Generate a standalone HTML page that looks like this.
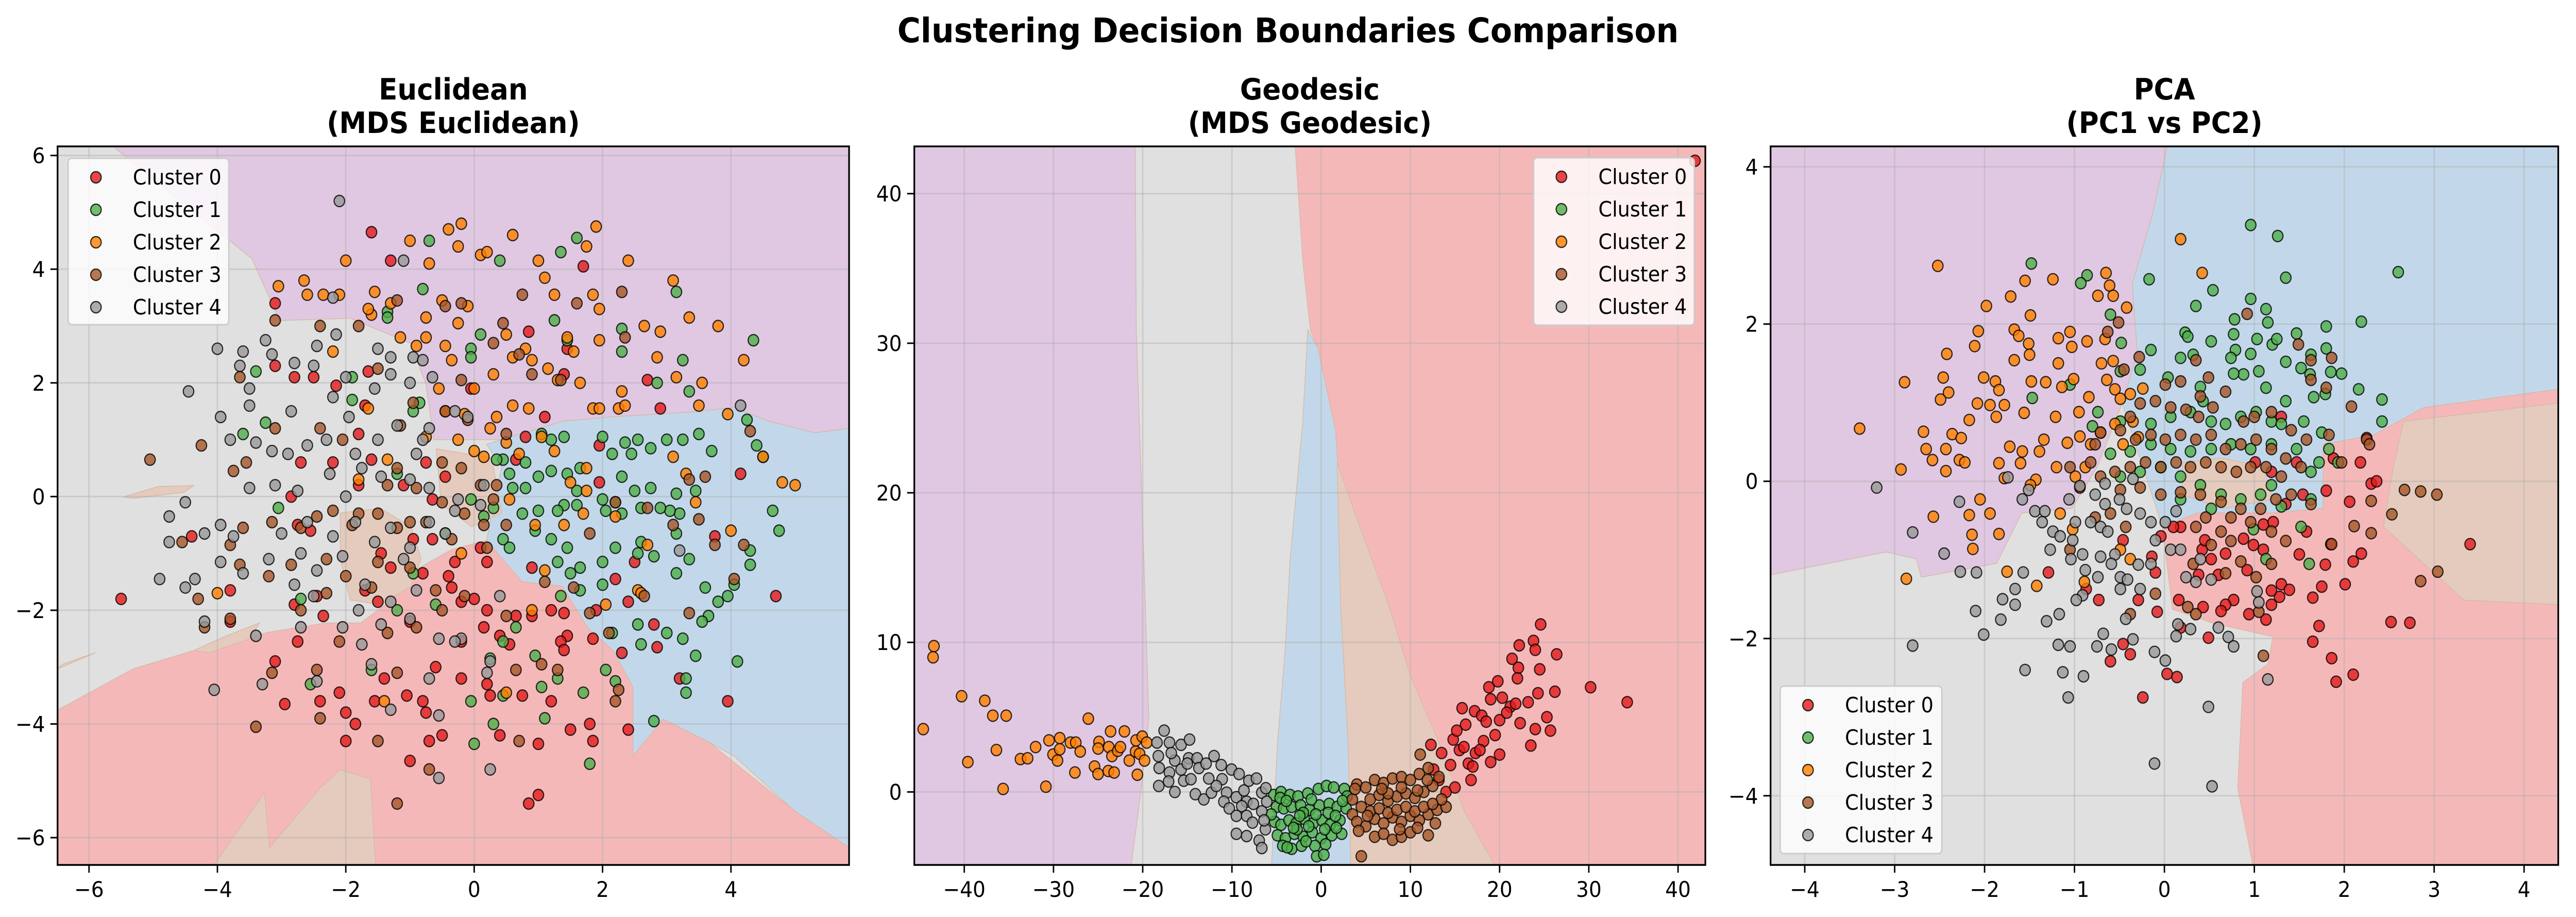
<!DOCTYPE html>
<html><head><meta charset="utf-8">
<style>
html,body{margin:0;padding:0;background:#fff;width:100%;height:100%;overflow:hidden;}
svg{display:block;position:fixed;left:0;top:0;width:100vw;height:100vh;}
text{font-family:"DejaVu Sans","Liberation Sans",sans-serif;}
</style></head>
<body>
<svg id="fig" xmlns="http://www.w3.org/2000/svg" viewBox="0 0 5370 1779" preserveAspectRatio="none">
<rect width="5370" height="1779" fill="#fff"/>
<text x="2685" y="82" font-size="66" font-weight="bold" text-anchor="middle">Clustering Decision Boundaries Comparison</text>
</svg>
<script>
// ---------- data ----------
const clusterNames = ["Cluster 0","Cluster 1","Cluster 2","Cluster 3","Cluster 4"];
const clusterColors = ["#e41a1c","#4daf4a","#ff7f00","#a65628","#999999"];
const regionColors = {purple:"#e0c8e2",gray:"#e0e0e0",blue:"#c2d8ea",pink:"#f5b8b9",tan:"#e5cbbd"};
const p1Ticks = {x:[-6,-4,-2,0,2,4], y:[-6,-4,-2,0,2,4,6]};
const p2Ticks = {x:[-40,-30,-20,-10,0,10,20,30,40], y:[0,10,20,30,40]};
const p3Ticks = {x:[-4,-3,-2,-1,0,1,2,3,4], y:[-4,-2,0,2,4]};

// Panel 1: Euclidean
const p1c0 = [[-1.6,4.65],[-1.3,4.15],[-3.1,3.4],[-3.1,2.3],[-2.8,2.1],[-2.5,2.1],[-2.15,1.95],[-1.65,2.2],[-1.7,1.6],[-1.8,1.1],[-2.2,0.6],[-2.7,0.6],[-2.85,0],[-2.75,-0.5],[-2.55,-0.6],[-4.4,-0.7],[-5.5,-1.8],[-3.8,-1.65],[-3.8,-2.2],[-3.1,-2.9],[-2.95,-3.65],[-2.45,-1.75],[-2.8,-1.9],[-2.35,-2.1],[-2.75,-2.55],[-2.1,-3.45],[-2.4,-3.6],[-2.0,-3.8],[-1.85,-4.0],[-2.0,-4.3],[-1.55,-3.6],[-1.4,-3.2],[-1.05,-3.5],[-0.8,-3.6],[-0.75,-3.8],[-0.5,-4.2],[-0.7,-4.3],[-1.0,-4.65],[-0.6,-3.0],[-0.2,-3.2],[0.2,-3.3],[0.25,-3.5],[0.4,-4.2],[1.0,-4.35],[1.0,-5.25],[0.85,-5.4],[1.2,-3.6],[0.75,-3.5],[1.5,-4.1],[1.8,-4.0],[1.85,-4.3],[2.4,-4.1],[2.85,-2.65],[2.8,-2.25],[2.4,-1.85],[2.2,-1.45],[2.5,-1.15],[2.9,1.55],[2.7,2.05],[3.75,-0.7],[4.15,0.4],[4.7,-1.75],[3.95,-3.6],[3.2,-3.2],[1.95,0.25],[1.95,0.9],[1.7,4.05],[1.45,2.6],[1.4,2.15],[0.85,2.9],[1.1,1.4],[0.65,0.65],[0.8,1.05],[-0.05,1.9],[0.9,-1.25],[0.2,-1.15],[-0.2,-1.85],[-0.2,-2.55],[0,-1.8],[0.15,-2.3],[0.4,-2.45],[1.4,-2.05],[1.45,-2.45],[1.35,-2.55],[1.4,-2.7],[1.85,-2.5],[2.3,-2.75],[-0.65,-0.75],[-0.95,-0.75],[-0.65,-0.05],[-0.45,0.35],[-0.75,0.6],[-1.1,0.2],[-1.6,0.65],[-1.8,0.2],[-1.7,-1.65],[-1.5,-1.85],[-1.3,-1.25],[-1.45,-1.0],[-0.8,-1.35],[-0.3,-1.15],[-0.4,-1.4],[0.2,-2.0],[0.65,-2.1],[0.9,-2.1],[1.2,-2.0],[1.9,-2.0],[-0.35,-1.6],[-1.0,-2.2],[0.55,-2.6],[0.1,-0.9]];
const p1c1 = [[-0.7,4.5],[0.4,4.15],[1.35,4.3],[1.6,4.55],[3.15,3.6],[4.35,2.75],[3.25,2.4],[2.85,2.0],[3.35,1.85],[4.25,1.35],[4.4,0.9],[4.5,0.7],[4.65,-0.25],[4.75,-0.6],[4.3,-0.95],[4.3,-1.2],[4.05,-1.55],[3.95,-1.75],[3.8,-1.85],[3.65,-2.1],[3.55,-2.2],[3.45,-2.8],[4.1,-2.9],[3.3,-3.2],[3.3,-3.45],[2.8,-3.95],[1.8,-4.7],[0,-4.35],[0.3,-4.0],[-0.05,-3.6],[0.45,-3.5],[1.05,-3.35],[1.7,-3.45],[2.2,-3.25],[1.3,-3.2],[2.05,-3.05],[0.95,-2.8],[0.65,-2.3],[2.15,-2.4],[2.55,-2.25],[3.0,-2.4],[3.25,-2.5],[3.15,-1.35],[2.8,-1.05],[2.55,-1.0],[3.35,-1.1],[3.15,-0.65],[2.6,-0.8],[2.2,-0.9],[2.0,-1.15],[1.65,-1.25],[1.5,-1.35],[1.35,-1.75],[1.65,-1.65],[2.0,-1.55],[3.2,-0.3],[3.05,-0.25],[2.9,-0.2],[2.6,-0.2],[2.3,-0.3],[2.05,-0.25],[1.6,-0.15],[1.4,-0.15],[1.3,-0.25],[1.0,-0.25],[2.2,-0.1],[2.0,-0.05],[2.5,0.1],[2.75,0.15],[3.15,0.05],[3.45,0.1],[2.3,0.35],[2.45,0.75],[2.75,0.85],[3.0,1.0],[3.25,1.0],[3.5,1.1],[3.7,0.8],[2.55,1.0],[2.35,0.95],[2.15,0.75],[2.0,1.05],[1.4,1.05],[1.2,1.0],[1.05,1.1],[0.8,0.6],[1.0,0.35],[1.2,0.45],[1.45,0.4],[1.65,0.5],[1.6,0.1],[0.8,0.15],[0.6,0.15],[0.45,0.65],[0.35,0.65],[0.55,0.4],[0.75,-0.3],[0.95,-0.6],[1.2,-0.75],[1.45,-0.9],[1.3,-1.15],[0.45,-0.75],[0.55,-0.9],[0.45,-2.55],[-0.45,-0.65],[0.15,-0.35],[0.3,-0.2],[-0.05,-0.05],[-0.85,1.65],[-1.35,3.25],[-1.35,3.15],[-0.8,3.65],[-0.05,2.6],[-0.05,2.45],[0.1,2.85],[1.25,3.1],[1.45,2.75],[2.3,2.95],[2.3,2.55],[-3.4,2.2],[-3.25,1.3],[-3.6,1.1],[-1.9,1.7],[-1.9,2.1],[-0.95,1.5],[-1.2,0.4],[-3.05,-0.2],[-2.7,-1.8],[-1.6,-3.05],[-2.55,-3.3],[-0.95,-1.35],[-0.6,-1.9],[-1.2,-2.0],[0.25,-2.85],[1.1,-3.9],[2.6,-2.6],[3.6,-1.6]];
const p1c2 = [[-3.05,3.7],[-2.65,3.8],[-2.6,3.55],[-2.35,3.55],[-2.1,3.55],[-2.0,4.15],[-1.55,3.6],[-1.3,3.4],[-1.6,3.2],[-1.0,4.5],[-0.7,4.1],[-0.4,4.7],[-0.2,4.8],[-0.25,4.4],[0.1,4.25],[0.2,4.3],[0.6,4.6],[1.0,4.15],[1.1,3.85],[1.25,3.55],[1.9,4.75],[1.75,4.4],[1.85,3.55],[1.95,3.3],[2.4,4.15],[3.1,3.8],[2.65,3.0],[2.9,2.9],[3.35,3.15],[2.85,2.45],[3.15,2.1],[3.55,2.0],[3.8,3.0],[4.2,2.4],[3.5,1.6],[3.95,1.45],[4.5,0.7],[4.8,0.25],[5.0,0.2],[3.1,0.7],[3.3,0.4],[3.45,-0.1],[2.2,-0.35],[2.3,1.85],[2.25,1.55],[1.85,1.55],[1.65,2.0],[1.55,2.55],[1.95,2.75],[1.45,2.8],[0.8,2.6],[0.5,2.85],[0.6,2.45],[0.9,2.4],[1.15,2.25],[1.3,2.05],[0.3,2.15],[0.6,1.6],[0.35,1.4],[0.0,1.9],[-0.35,2.4],[-0.45,2.65],[-0.25,3.05],[-0.1,3.35],[-0.5,3.45],[-0.75,3.15],[-0.75,2.8],[-0.9,2.65],[-1.15,2.8],[-0.55,1.9],[-0.45,1.5],[-0.25,1.0],[0.0,0.8],[0.25,1.2],[0.5,0.95],[0.85,1.55],[1.05,1.05],[1.25,0.8],[1.75,0.5],[1.75,0.1],[1.95,1.55],[2.35,1.6],[1.5,0.25],[0.55,-0.05],[0.95,-0.5],[1.4,-0.5],[1.7,-0.3],[2.7,-0.85],[4.0,-0.6],[-1.65,3.3],[-2.2,2.55],[-1.65,1.55],[-1.35,0.65],[-1.8,0.3],[-0.75,1.05],[-0.2,-1.0],[-1.4,-3.6],[0.5,-3.45],[0.9,-2.0],[2.05,-1.9],[2.55,-1.65],[2.6,-1.7],[1.1,-1.3],[-4.0,-1.7],[0.15,0.7],[-0.15,1.45],[0.7,0.75]];
const p1c3 = [[-3.1,3.1],[-2.4,3.0],[-1.8,3.0],[-1.2,3.45],[-0.45,3.35],[-0.2,3.4],[0.45,3.05],[0.3,2.7],[0.7,2.5],[0.9,2.15],[0.75,3.55],[1.6,3.4],[2.3,3.6],[1.35,2.05],[2.35,2.8],[-0.2,2.05],[-0.95,1.65],[-0.45,1.5],[0.5,1.1],[-0.1,1.35],[-1.15,1.25],[-1.5,2.25],[-3.65,2.1],[-3.1,1.2],[-2.4,1.2],[-2.05,1.0],[-4.25,0.9],[-5.05,0.65],[-3.75,0.45],[-3.55,0.6],[-1.2,0.5],[-0.5,-0.1],[0.1,0.2],[0.35,0.2],[-0.2,0.5],[-0.5,0.6],[-0.9,0.15],[-1.35,0.2],[-1.8,-0.3],[-2.2,-0.25],[-2.7,-0.55],[-2.45,-0.35],[-3.15,-0.45],[-3.6,-0.55],[-3.8,-0.85],[-4.55,-0.8],[-3.65,-1.2],[-3.2,-1.4],[-2.85,-1.2],[-2.3,-1.1],[-1.9,-0.5],[-1.5,-0.3],[-1.2,-0.55],[-1.0,-0.45],[-0.75,-0.45],[0.15,-0.5],[-0.15,-0.3],[-0.35,-0.75],[0.3,-0.05],[1.8,-0.65],[2.2,-0.1],[3.1,-0.5],[3.5,-0.4],[4.2,-0.85],[3.75,-0.85],[4.3,1.15],[3.6,0.35],[3.35,0.3],[2.7,-0.2],[1.1,-1.5],[1.55,-1.6],[1.8,-2.05],[2.1,-2.4],[2.65,-1.75],[3.35,-2.05],[4.05,-1.45],[-0.15,-1.75],[-0.6,-1.65],[-1.0,-1.25],[-1.5,-1.15],[-2.0,-1.4],[-2.3,-1.7],[-1.35,-2.4],[-0.5,-2.0],[0.5,-2.1],[-1.2,-3.1],[-2.45,-3.05],[-3.15,-3.1],[-3.4,-4.05],[-2.4,-3.9],[-1.5,-4.3],[-0.7,-4.8],[-1.2,-5.4],[0.7,-4.3],[1.05,-2.95],[0.65,-3.05],[1.3,-3.05],[2.2,-3.6],[2.25,-3.4],[-4.2,-2.3],[-4.3,-1.8],[-3.8,-2.15],[-2.7,-2.0],[0.2,-0.9],[0.5,-0.5],[-1.6,-1.6],[-0.9,-2.3],[-2.1,-2.55]];
const p1c4 = [[-2.1,5.2],[-1.1,4.15],[-2.2,3.5],[-3.25,2.75],[-3.15,2.5],[-2.45,2.65],[-2.15,2.85],[-1.5,2.6],[-1.3,2.45],[-0.95,2.45],[-0.8,2.4],[-4.0,2.6],[-3.6,2.55],[-3.65,2.3],[-2.8,2.35],[-2.5,2.3],[-2.0,2.1],[-1.55,1.9],[-1.3,2.15],[-1.0,2.0],[-0.65,2.1],[-4.45,1.85],[-3.5,1.9],[-3.5,1.6],[-2.85,1.5],[-2.2,1.75],[-1.95,1.4],[-1.5,1.0],[-1.2,1.25],[-0.7,1.2],[-0.3,1.5],[-0.1,1.4],[-3.95,1.4],[-3.8,1.0],[-3.4,0.95],[-3.15,0.8],[-2.9,0.75],[-2.6,0.9],[-2.3,1.0],[-1.85,0.75],[-0.8,1.0],[-0.9,0.75],[-3.5,0.15],[-3.1,0.2],[-2.75,0.1],[-2.25,0.4],[-1.75,0.5],[-1.45,0.35],[-1.0,0.3],[-0.7,0.15],[-3.95,-0.5],[-3.75,-0.7],[-3.0,-0.65],[-2.6,-0.45],[-2.2,-0.7],[-1.85,-0.45],[-1.3,-0.55],[-0.7,-0.45],[-0.3,-0.25],[0.15,0.2],[-4.5,-0.1],[-4.75,-0.35],[-4.75,-0.8],[-3.95,-1.15],[-3.2,-1.1],[-2.7,-1.0],[-2.05,-1.05],[-1.55,-0.8],[-1.0,-0.9],[-4.35,-1.45],[-3.6,-1.35],[-2.45,-1.3],[-1.7,-1.55],[-0.9,-1.65],[-2.8,-1.55],[-2.5,-1.75],[-1.8,-2.0],[-1.3,-1.85],[-4.2,-2.2],[-3.4,-2.45],[-2.7,-2.3],[-2.05,-2.3],[-1.45,-2.25],[-1.0,-2.15],[-0.55,-2.5],[-0.2,-2.5],[-0.3,-2.55],[-1.75,-2.6],[-3.3,-3.3],[-1.6,-2.95],[-0.7,-3.2],[-2.45,-3.25],[-1.3,-3.75],[-0.55,-3.85],[-0.55,-4.95],[0.25,-4.8],[0.25,-2.9],[0.2,-3.1],[0.4,-1.75],[-0.25,-0.05],[0.1,-0.15],[-0.45,-0.65],[-4.2,-0.65],[-4.5,-1.6],[-4.9,-1.45],[3.2,-0.95],[4.15,1.6],[-4.05,-3.4],[-2.0,0.0],[-1.1,-1.1]];

// Panel 2: Geodesic
const p2c0 = [[12.3,3.15],[12.6,1.5],[13.2,0.8],[14.0,0.0],[13.5,2.6],[14.8,3.5],[15.5,2.8],[16.0,3.0],[16.5,1.9],[17.0,1.7],[17.3,2.6],[16.2,4.5],[15.8,5.6],[17.2,5.4],[18.0,5.1],[19.0,6.2],[18.5,4.7],[20.0,4.8],[18.2,3.4],[19.5,3.8],[20.0,2.5],[19.0,2.0],[17.8,2.8],[15.2,4.1],[14.5,1.8],[21.2,5.7],[20.8,5.3],[22.3,4.6],[22.1,8.3],[21.4,8.9],[22.0,7.6],[23.2,6.0],[24.3,6.6],[25.3,5.0],[24.0,4.2],[23.5,3.1],[23.8,10.1],[22.2,9.8],[24.6,11.2],[24.0,9.5],[24.5,8.2],[26.2,6.7],[30.2,7.0],[34.3,6.0],[25.7,4.1],[21.8,5.9],[20.3,6.3],[26.4,9.2],[41.9,42.2],[16.8,0.8],[15.0,0.3],[18.8,7.0],[19.8,7.4]];
const p2c1 = [[-5.3,-0.2],[-4.5,0.0],[-3.5,-0.2],[-2.6,-0.3],[-1.5,-0.1],[-0.3,0.2],[0.6,0.4],[1.4,0.3],[2.6,0.2],[2.9,-0.3],[-5.0,-1.0],[-4.2,-1.1],[-3.3,-1.0],[-2.3,-0.9],[-1.3,-1.2],[-0.2,-0.9],[0.9,-0.8],[1.8,-1.0],[2.8,-1.1],[-5.2,-2.0],[-4.5,-2.2],[-3.6,-1.9],[-2.8,-2.1],[-1.9,-1.8],[-0.9,-2.1],[0.1,-1.9],[1.0,-2.2],[2.1,-1.9],[-4.9,-2.9],[-4.0,-3.1],[-3.0,-2.8],[-2.0,-3.0],[-1.0,-2.7],[0.0,-3.1],[1.2,-2.9],[2.3,-2.8],[-4.3,-3.6],[-3.3,-3.8],[-2.2,-3.6],[-0.7,-3.6],[0.5,-3.5],[-0.5,-4.3],[0.3,-4.2],[-3.8,-3.7],[-2.7,-2.5],[-1.7,-3.3],[0.8,-1.4],[-1.1,-0.5],[-2.0,-1.4],[-4.6,-0.4],[-3.9,-0.6],[-0.6,-1.5],[1.6,-1.6],[2.4,-0.6],[-2.4,-1.6],[-3.1,-2.4],[-1.4,-2.3],[0.4,-2.5],[1.7,-2.4],[-5.6,-1.5]];
const p2c2 = [[-43.4,9.75],[-43.5,9.0],[-44.6,4.2],[-40.3,6.4],[-37.7,6.1],[-36.8,5.1],[-35.3,5.1],[-39.6,2.0],[-36.4,2.8],[-35.65,0.2],[-30.85,0.35],[-33.7,2.2],[-32.9,2.25],[-32.0,3.0],[-30.5,3.45],[-29.3,3.6],[-30.05,2.5],[-29.55,2.1],[-29.3,2.85],[-28.1,3.3],[-27.5,3.3],[-27.0,2.7],[-27.6,1.3],[-26.1,4.9],[-25.4,1.7],[-25.0,1.2],[-24.9,3.35],[-25.0,2.9],[-23.8,3.0],[-23.6,4.05],[-22.05,4.05],[-23.85,1.4],[-23.2,1.3],[-23.45,2.4],[-22.8,2.75],[-22.5,3.0],[-21.5,2.1],[-20.8,2.7],[-20.35,2.55],[-20.6,1.15],[-20.75,3.45],[-20.05,3.7],[-19.55,3.3],[-19.8,2.1]];
const p2c3 = [[3.5,-0.5],[4.0,0.5],[5.0,0.3],[6.0,0.8],[7.0,0.6],[8.0,0.9],[9.0,1.0],[10.0,0.8],[11.0,1.2],[12.0,1.6],[11.1,2.5],[13.2,1.0],[3.5,-1.5],[4.5,-1.0],[5.5,-0.5],[6.5,-0.2],[7.5,-0.6],[8.5,-0.3],[9.5,-0.1],[10.5,-0.4],[11.5,0.0],[12.5,0.4],[4.0,-2.0],[5.0,-2.3],[6.0,-1.8],[7.0,-2.1],[8.0,-1.7],[9.0,-2.0],[10.0,-1.6],[11.0,-1.9],[12.0,-1.5],[13.0,-1.2],[14.0,-1.0],[13.5,-0.5],[5.5,-1.3],[6.5,-1.1],[7.5,-1.4],[8.5,-1.2],[9.5,-1.0],[10.5,-1.3],[11.5,-1.0],[12.5,-0.8],[6.0,-3.0],[7.0,-2.8],[8.0,-3.2],[9.0,-3.0],[10.0,-2.7],[12.0,-2.9],[4.5,-4.3],[7.5,-0.1],[9.0,0.3],[10.8,0.1],[4.2,-2.6],[5.2,-1.6],[6.8,0.2],[8.8,-2.5],[10.8,-2.4],[12.8,-2.1],[3.8,0.2],[11.9,0.8]];
const p2c4 = [[-18.4,3.3],[-17.6,4.1],[-17.0,3.3],[-15.7,3.15],[-14.75,3.5],[-18.25,2.4],[-18.15,1.6],[-18.2,0.4],[-17.0,1.3],[-16.4,2.1],[-15.7,1.5],[-14.85,2.25],[-13.9,2.25],[-16.4,0.0],[-15.4,0.75],[-14.6,0.85],[-13.7,1.6],[-12.9,1.9],[-12.0,2.4],[-17.1,0.7],[-14.1,-0.15],[-13.15,-0.5],[-12.3,-0.05],[-11.2,1.8],[-11.1,0.85],[-11.75,0.4],[-10.6,-0.05],[-10.05,1.5],[-9.2,1.2],[-10.9,-0.65],[-10.3,-1.1],[-9.5,-0.35],[-8.65,0.1],[-8.1,0.75],[-7.25,0.9],[-6.65,-0.05],[-8.35,-0.65],[-8.9,-0.95],[-9.5,-1.6],[-8.35,-1.6],[-7.7,-2.05],[-6.65,-1.3],[-6.25,-2.5],[-6.95,-3.25],[-6.65,-3.75],[-9.5,-2.8],[-8.35,-2.95],[-6.4,-1.9],[-6.1,-0.65],[-6.2,0.25],[-12.6,0.9],[-15.0,1.9],[-16.8,2.6],[-7.6,-0.8]];

// Panel 3: PCA
const p3c0 = [[3.4,-0.8],[2.52,-1.79],[2.73,-1.8],[2.1,-2.46],[1.91,-2.55],[1.86,-2.25],[1.65,-2.04],[1.72,-1.84],[1.65,-1.48],[1.75,-1.34],[1.79,-1.06],[1.85,-0.8],[2.01,-1.31],[2.1,-1.02],[2.19,-0.92],[2.06,-0.26],[2.3,-0.03],[2.36,0.0],[2.18,0.24],[2.25,0.55],[1.88,0.29],[1.8,-0.12],[1.58,-0.64],[1.5,-0.93],[1.3,-1.31],[1.28,-1.47],[1.19,-1.39],[1.39,-1.38],[1.19,-1.57],[1.13,-1.76],[0.94,-1.69],[0.77,-1.51],[0.68,-1.57],[0.63,-1.65],[0.92,-1.13],[0.68,-0.92],[1.1,-0.87],[0.99,-0.81],[0.88,-0.73],[1.1,-0.55],[1.21,-0.52],[1.35,-0.29],[1.54,-0.17],[1.47,0.24],[1.3,0.82],[1.19,0.12],[1.01,0.24],[0.42,-0.87],[0.45,-0.75],[0.52,-0.99],[0.6,-1.19],[0.38,-1.19],[0.18,-0.58],[0.1,-0.58],[-0.04,-0.7],[-0.14,-0.96],[-0.1,-1.16],[-0.46,-0.75],[-1.29,-1.16],[-0.87,-1.37],[-0.73,-1.51],[-0.29,-1.51],[0.16,-1.51],[-0.08,-1.66],[0.43,-1.6],[0.49,-1.99],[0.18,-1.86],[-0.46,-2.07],[-0.38,-2.2],[-0.6,-2.29],[0.03,-2.45],[0.14,-2.49],[-0.24,-2.75]];
const p3c1 = [[0.96,3.26],[1.26,3.12],[2.6,2.66],[1.35,2.59],[0.54,2.43],[0.35,2.23],[-0.17,2.57],[-0.86,2.62],[-0.93,2.52],[-1.48,2.77],[0.96,2.32],[1.13,2.19],[1.15,2.02],[0.78,2.06],[2.19,2.03],[1.8,1.97],[0.23,1.89],[0.26,1.84],[0.77,1.87],[0.79,1.67],[1.03,1.81],[1.2,1.74],[1.25,1.81],[1.47,1.88],[1.8,1.69],[1.63,1.61],[0.52,1.78],[0.32,1.61],[0.18,1.57],[0.74,1.57],[0.96,1.62],[1.35,1.52],[1.52,1.44],[1.62,1.36],[1.85,1.39],[1.97,1.37],[2.16,1.17],[2.42,1.04],[2.42,0.76],[1.79,1.11],[1.66,1.07],[1.35,1.02],[1.13,1.19],[1.05,1.4],[0.88,1.36],[0.77,1.37],[0.4,1.2],[0.43,1.02],[0.04,1.32],[-0.27,1.42],[-0.49,1.4],[-0.15,1.67],[-0.48,1.76],[-0.6,2.12],[-1.05,1.23],[-1.47,1.06],[-0.74,0.88],[-0.8,0.7],[-0.49,0.76],[-0.15,0.73],[0.07,0.82],[0.29,0.88],[0.52,0.76],[0.68,0.73],[0.85,0.82],[1.02,0.88],[1.19,0.76],[1.3,0.73],[1.55,0.76],[1.75,0.62],[1.83,0.41],[1.93,0.24],[1.72,0.24],[1.63,0.12],[1.47,0.41],[1.19,0.47],[0.96,0.41],[0.74,0.47],[0.52,0.41],[0.29,0.38],[0.07,0.41],[-0.15,0.47],[-0.38,0.38],[-0.6,0.35],[-0.49,0.06],[-0.27,0.12],[-0.04,0.18],[0.18,0.06],[0.4,-0.05],[0.63,-0.17],[0.85,-0.23],[1.07,-0.17],[1.3,-0.32],[1.52,-0.58],[1.19,-0.05],[1.63,-0.23],[1.61,-1.05],[1.13,-0.99],[0.99,-0.61],[0.52,-0.35],[0.18,-0.23]];
const p3c2 = [[-2.52,2.74],[0.18,3.08],[0.42,2.65],[-3.39,0.67],[-2.89,1.26],[-2.93,0.15],[-2.87,-1.24],[-2.57,-0.45],[-2.68,0.63],[-2.58,0.27],[-2.65,0.41],[-2.49,1.04],[-2.46,1.32],[-2.4,1.13],[-2.42,1.62],[-2.43,0.41],[-2.43,0.13],[-2.36,0.6],[-2.26,0.55],[-2.28,0.27],[-2.22,0.24],[-2.17,0.78],[-2.14,-0.68],[-2.13,-0.86],[-2.17,-0.43],[-2.05,-0.23],[-2.11,1.72],[-2.07,1.91],[-1.98,2.23],[-2.08,0.99],[-2.01,1.32],[-1.94,0.97],[-1.88,1.27],[-1.84,1.16],[-1.78,0.97],[-1.87,0.82],[-1.94,-0.41],[-1.84,0.23],[-1.78,0.04],[-1.75,-1.15],[-1.84,-0.67],[-1.71,2.35],[-1.67,1.93],[-1.62,1.85],[-1.67,1.54],[-1.56,0.87],[-1.6,0.23],[-1.72,0.44],[-1.58,0.38],[-1.51,1.75],[-1.5,1.61],[-1.49,2.11],[-1.55,2.55],[-1.48,1.27],[-1.43,0.02],[-1.39,0.38],[-1.34,0.53],[-1.32,1.26],[-1.24,2.57],[-1.18,1.82],[-1.18,1.5],[-1.2,0.18],[-1.21,0.82],[-1.14,1.2],[-1.08,0.49],[-1.05,1.9],[-1.03,1.71],[-1.01,1.3],[-0.95,0.88],[-0.94,0.57],[-0.86,1.78],[-0.84,1.07],[-0.74,2.36],[-0.65,2.65],[-0.61,2.49],[-0.57,2.36],[-0.42,2.21],[-0.66,1.81],[-0.7,1.5],[-0.57,1.53],[-0.64,1.29],[-0.55,1.17],[-0.49,1.05],[-0.38,1.11],[-0.24,1.18],[-0.35,0.76],[-0.55,0.73],[-0.71,0.62],[-0.82,0.47],[-0.88,0.18],[-0.99,0.06],[-1.16,-0.41],[-1.02,-0.61],[-0.89,-1.28],[-1.42,-1.33],[-1.49,-0.05],[-0.46,0.47],[-0.29,0.56],[-0.49,-0.87],[-0.38,-0.99]];
const p3c3 = [[-0.51,2.02],[-0.63,1.9],[-0.28,1.58],[-0.45,1.42],[0.92,2.13],[1.49,1.74],[1.63,1.54],[1.86,1.57],[2.08,0.95],[1.63,1.29],[1.8,1.19],[0.35,1.54],[0.49,1.32],[0.18,1.27],[0.01,1.23],[0.4,1.08],[0.68,1.14],[-0.27,0.99],[-0.1,1.02],[0.07,0.94],[0.24,0.91],[0.38,0.82],[0.54,0.94],[0.88,0.76],[1.0,0.82],[1.19,0.88],[1.41,0.65],[1.58,0.53],[2.25,0.53],[2.28,0.47],[2.67,-0.11],[2.85,-0.13],[3.03,-0.17],[2.53,-0.42],[2.3,-0.66],[2.11,-0.57],[2.85,-1.27],[3.04,-1.15],[1.86,-0.8],[2.3,-0.25],[1.97,0.24],[1.83,0.59],[-0.71,0.62],[-0.77,0.47],[-0.38,0.82],[-0.49,0.65],[-0.32,0.53],[-0.15,0.59],[0.01,0.53],[0.18,0.59],[0.35,0.53],[0.52,0.59],[0.68,0.41],[0.85,0.47],[1.02,0.53],[1.19,0.41],[1.35,0.29],[1.52,0.18],[1.3,0.06],[1.13,0.18],[0.96,0.18],[0.8,0.12],[0.63,0.18],[0.46,0.24],[0.29,0.18],[0.13,0.24],[-0.04,0.18],[-0.21,0.24],[-0.38,0.18],[-0.55,0.12],[-0.71,0.06],[-0.82,0.24],[-0.49,-0.11],[-0.27,-0.08],[-0.04,-0.17],[0.18,-0.14],[0.4,-0.17],[0.63,-0.26],[0.85,-0.35],[1.07,-0.35],[1.24,-0.23],[1.41,-0.17],[1.63,-0.29],[0.46,-0.46],[0.35,-0.58],[0.63,-0.64],[0.74,-0.46],[0.96,-0.52],[1.19,-0.64],[1.35,-0.76],[0.85,-1.02],[0.68,-1.17],[1.02,-1.22],[1.19,-1.05],[0.74,-0.76],[0.52,-0.81],[0.32,-1.05],[-0.1,-1.43],[0.26,-1.6],[0.35,-1.69],[-0.38,-1.69],[1.05,-1.66],[1.1,-2.22],[-1.05,0.18],[-0.94,-0.08],[-0.77,-0.46],[-0.6,-0.41],[-0.43,-0.58],[-1.05,-0.87]];
const p3c4 = [[-3.2,-0.08],[-2.8,-0.65],[-2.45,-0.92],[-2.8,-2.09],[-2.27,-1.15],[-2.09,-1.16],[-2.1,-1.65],[-2.01,-1.95],[-1.82,-1.76],[-1.8,-1.5],[-1.66,-1.57],[-1.66,-1.37],[-1.57,-1.16],[-1.55,-2.4],[-1.31,-1.78],[-1.17,-1.69],[-1.13,-2.43],[-1.07,-2.75],[-0.9,-2.48],[-1.18,-2.08],[-1.05,-2.1],[-0.75,-2.1],[-0.59,-2.14],[-0.68,-1.94],[-0.43,-1.75],[-0.35,-2.01],[-0.11,-2.17],[0.01,-2.28],[0.13,-1.97],[0.15,-1.82],[0.29,-1.88],[0.6,-1.86],[0.71,-1.98],[0.77,-2.1],[1.15,-2.52],[0.49,-2.87],[-0.11,-3.59],[0.53,-3.88],[-2.28,-0.26],[-1.58,-0.23],[-1.51,-0.11],[-1.74,0.05],[-1.44,-0.38],[-1.33,-0.38],[-1.36,-0.52],[-1.24,-0.64],[-1.16,-0.7],[-1.27,-0.87],[-1.04,-0.99],[-1.02,-0.75],[-0.91,-0.93],[-0.99,-0.52],[-0.82,-0.52],[-0.71,-0.58],[-0.63,-0.64],[-0.55,-0.93],[-0.71,-0.96],[-0.88,-1.13],[-0.74,-1.22],[-0.59,-1.05],[-0.49,-1.22],[-0.41,-1.25],[-0.27,-1.37],[-0.91,-1.45],[-0.98,-1.51],[-0.49,-1.37],[-0.15,-1.05],[-0.29,-1.06],[0.07,-0.87],[0.18,-0.87],[0.24,-1.22],[0.35,-1.28],[0.52,-1.25],[0.4,-0.99],[-0.1,-0.75],[-0.15,-0.52],[-0.27,-0.41],[-0.42,-0.35],[-0.5,-0.23],[-0.66,-0.29],[-0.77,-0.17],[-0.66,-0.03],[-0.94,-0.06],[-1.06,-0.23],[0.01,-0.52],[0.13,-0.38],[1.05,-1.54],[1.03,-1.4],[-0.35,0.03]];

// Decision regions: polygons in axes-fraction units (x/1568, y/1568 from top-left)
const p1Regions = [
 {c:"purple", pts:[[110,0],[385,245],[440,380],[580,375],[700,430],[730,520],[745,640],[830,640],[900,640],[1000,600],[1100,590],[1250,580],[1340,570],[1410,600],[1500,625],[1568,615],[1568,0]]},
 {c:"blue", pts:[[850,650],[1000,600],[1100,590],[1250,580],[1340,570],[1410,600],[1500,625],[1568,615],[1568,1530],[1460,1450],[1340,1330],[1290,1300],[1200,1250],[1140,1330],[1140,1180],[1100,1100],[1050,1050],[1000,960],[920,950],[850,860],[860,800],[880,700]]},
 {c:"pink", pts:[[0,1230],[150,1140],[300,1090],[420,1060],[530,1040],[600,1040],[650,1000],[700,930],[780,880],[850,860],[920,950],[1000,960],[1050,1050],[1100,1100],[1140,1180],[1140,1330],[1200,1250],[1290,1300],[1460,1450],[1568,1530],[1568,1568],[0,1568]]},
 {c:"tan", pts:[[310,1568],[410,1410],[420,1530],[520,1400],[560,1360],[620,1380],[630,1568]]},
 {c:"tan", pts:[[560,800],[640,790],[700,830],[720,900],[700,960],[640,1000],[580,990],[560,900]]},
 {c:"tan", pts:[[750,660],[860,680],[880,800],[820,830],[760,780]]},
 {c:"tan", pts:[[130,765],[200,742],[270,740],[250,755],[150,768]]},
 {c:"tan", pts:[[270,1100],[330,1070],[400,1040],[380,1075],[300,1105]]},
 {c:"tan", pts:[[0,1140],[75,1105],[10,1130]]}
];
const p2Regions = [
 {c:"purple", pts:[[0,0],[438,0],[440,400],[455,900],[465,1250],[450,1400],[430,1568],[0,1568]]},
 {c:"pink", pts:[[755,0],[1568,0],[1568,1568],[1150,1568],[1090,1450],[1040,1300],[985,1160],[940,1000],[870,790],[838,690],[835,620],[800,440],[785,400],[770,250]]},
 {c:"blue", pts:[[780,400],[800,440],[835,620],[840,700],[845,1000],[860,1300],[865,1568],[708,1568],[720,1300],[735,1100],[745,900],[770,600]]},
 {c:"tan", pts:[[838,690],[870,790],[940,1000],[985,1160],[1040,1300],[1090,1450],[1150,1568],[865,1568],[860,1300],[845,1000]]}
];
const p3Regions = [
 {c:"purple", pts:[[0,0],[790,0],[760,150],[720,300],[730,450],[700,560],[650,700],[600,790],[500,800],[450,910],[300,940],[290,900],[230,885],[0,935]]},
 {c:"blue", pts:[[790,0],[1568,0],[1568,530],[1300,570],[1200,630],[1100,650],[1100,790],[1000,800],[850,800],[780,830],[700,560],[730,450],[720,300],[760,150]]},
 {c:"pink", pts:[[1100,650],[1200,630],[1300,570],[1568,530],[1568,1568],[960,1568],[930,1400],[940,1170],[990,1130],[1000,1070],[880,1040],[800,1010],[780,830],[850,800],[1000,800],[1100,790]]},
 {c:"tan", pts:[[1260,600],[1430,578],[1568,560],[1568,1000],[1380,990],[1220,830],[1240,700]]},
 {c:"tan", pts:[[820,690],[900,680],[980,700],[1000,770],[900,790],[820,760]]}
];

// ---------- drawing ----------
const NS = "http://www.w3.org/2000/svg";
const svg = document.getElementById("fig");
function mk(tag, attrs, parent){ const e=document.createElementNS(NS,tag); for(const k in attrs) e.setAttribute(k,attrs[k]); (parent||svg).appendChild(e); return e; }

const panels = [
 {key:"euclidean", title:"Euclidean", sub:"(MDS Euclidean)", L:120, R:1770, T:284, B:1678, x0:-6.49, x1:5.84, y0:-6.48, y1:6.16, ticks:p1Ticks, regions:p1Regions, data:[p1c0,p1c1,p1c2,p1c3,p1c4], legend:{x:142,y:307,w:335,h:323}, bg:"gray"},
 {key:"geodesic", title:"Geodesic", sub:"(MDS Geodesic)", L:1906, R:3555, T:284, B:1678, x0:-45.6, x1:43.06, y0:-4.88, y1:43.16, ticks:p2Ticks, regions:p2Regions, data:[p2c0,p2c1,p2c2,p2c3,p2c4], legend:{x:3197,y:306,w:335,h:325}, bg:"gray"},
 {key:"pca", title:"PCA", sub:"(PC1 vs PC2)", L:3691, R:5333, T:284, B:1678, x0:-4.38, x1:4.38, y0:-4.88, y1:4.26, ticks:p3Ticks, regions:p3Regions, data:[p3c0,p3c1,p3c2,p3c3,p3c4], legend:{x:3711,y:1331,w:337,h:325}, bg:"gray"}
];

panels.forEach((p,pi)=>{
  const g = mk("g",{});
  
  
  const W=p.R-p.L, H=p.B-p.T;
  const sx = v => p.L + (v-p.x0)/(p.x1-p.x0)*W;
  const sy = v => p.B - (v-p.y0)/(p.y1-p.y0)*H;
  const fx = f => p.L + f/1568*W;
  const fy = f => p.T + f/1568*H;
  const clipId = "clip"+pi;
  const defs = mk("defs",{},g);
  const cp = mk("clipPath",{id:clipId},defs);
  mk("rect",{x:p.L,y:p.T,width:W,height:H},cp);
  const plot = mk("g",{"clip-path":"url(#"+clipId+")"},g);
  const bg = mk("rect",{x:p.L,y:p.T,width:W,height:H,fill:regionColors[p.bg]},plot);
  
  
  p.regions.forEach(r=>{
    const poly = mk("polygon",{points:r.pts.map(q=>fx(q[0]).toFixed(1)+","+fy(q[1]).toFixed(1)).join(" "),fill:regionColors[r.c],stroke:"#d7b9a5","stroke-width":1.5},plot);
    
    
  });
  p.ticks.x.forEach(t=>{ const l=mk("line",{x1:sx(t),x2:sx(t),y1:p.T,y2:p.B,stroke:"#b0b0b0","stroke-opacity":0.45,"stroke-width":3},plot);
    
     });
  p.ticks.y.forEach(t=>{ const l=mk("line",{y1:sy(t),y2:sy(t),x1:p.L,x2:p.R,stroke:"#b0b0b0","stroke-opacity":0.45,"stroke-width":3},plot);
    
     });
  p.data.forEach((arr,ci)=>{
    const sg = mk("g",{},plot);
    
    
    arr.forEach(d=>{
      const c = mk("circle",{cx:sx(d[0]).toFixed(1),cy:sy(d[1]).toFixed(1),r:11,fill:clusterColors[ci],"fill-opacity":0.8,stroke:"#000","stroke-opacity":0.8,"stroke-width":2.4},sg);
      
      
    });
  });
  const fr = mk("rect",{x:p.L,y:p.T,width:W,height:H,fill:"none",stroke:"#000","stroke-width":3.5},g);
  
  
  p.ticks.x.forEach(t=>{
    const x=sx(t);
    const tk=mk("line",{x1:x,x2:x,y1:p.B,y2:p.B+15,stroke:"#000","stroke-width":3},g);
    
    
    const tx=mk("text",{x:x,y:p.B+62,"font-size":42,"text-anchor":"middle"},g);
    tx.textContent = (t<0?"\u2212"+(-t):""+t);
    
    
  });
  p.ticks.y.forEach(t=>{
    const y=sy(t);
    const tk=mk("line",{x1:p.L-15,x2:p.L,y1:y,y2:y,stroke:"#000","stroke-width":3},g);
    
    
    const tx=mk("text",{x:p.L-26,y:y+15,"font-size":42,"text-anchor":"end"},g);
    tx.textContent = (t<0?"\u2212"+(-t):""+t);
    
    
  });
  const cx=(p.L+p.R)/2;
  const t1=mk("text",{x:cx,y:193,"font-size":57,"font-weight":"bold","text-anchor":"middle"},g);
  t1.textContent=p.title;
  
  
  const t2=mk("text",{x:cx,y:258,"font-size":57,"font-weight":"bold","text-anchor":"middle"},g);
  t2.textContent=p.sub;
  
  
  const lg=mk("g",{},g);
  
  
  const lb=mk("rect",{x:p.legend.x,y:p.legend.y,width:p.legend.w,height:p.legend.h,rx:8,fill:"#fff","fill-opacity":0.8,stroke:"#cccccc","stroke-width":3},lg);
  
  
  clusterNames.forEach((n,ci)=>{
    const yy=p.legend.y+37+ci*63;
    const m=mk("circle",{cx:p.legend.x+58,cy:yy,r:11,fill:clusterColors[ci],"fill-opacity":0.8,stroke:"#000","stroke-opacity":0.8,"stroke-width":2.4},lg);
    
    
    const lt=mk("text",{x:p.legend.x+135,y:yy+14,"font-size":41},lg);
    lt.textContent=n;
    
    
  });
});
</script>
</body></html>
